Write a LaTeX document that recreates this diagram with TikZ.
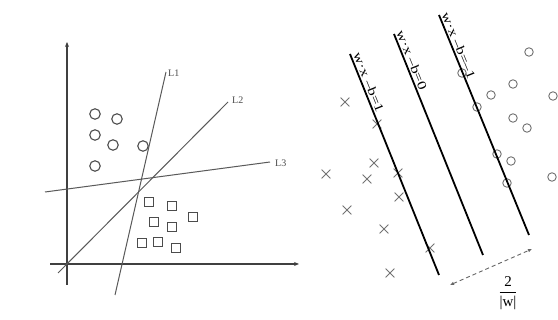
\documentclass[tikz,border=0pt]{standalone}
\usepackage{fontspec}
\setmainfont{Liberation Serif}
\usepackage{graphicx}
\usetikzlibrary{arrows.meta,shapes.misc}
\begin{document}
\begin{tikzpicture}[x=1pt,y=-1pt,
  axis/.style={draw=black!75, line width=1.3pt},
  sepline/.style={draw=black!65, line width=1pt},
  lblL/.style={font=\fontsize{10}{12}\selectfont, text=black!70, inner sep=1pt, anchor=west},
  lcirc/.style={circle, draw=black!70, line width=1.1pt, minimum size=10.5pt, inner sep=0pt},
  lsq/.style={rectangle, draw=black!70, line width=1.1pt, minimum size=9.5pt, inner sep=0pt},
  rcirc/.style={circle, draw=black!55, line width=0.9pt, minimum size=8.5pt, inner sep=0pt},
  rcross/.style={cross out, draw=black!55, line width=0.8pt, minimum size=8pt, inner sep=0pt},
  margin/.style={draw=black, line width=1.8pt},
  mlabel/.style={sloped, above, font=\fontsize{12.5}{14}\selectfont, inner sep=1.5pt},
]
\useasboundingbox (0,0) rectangle (558,320);
\fill[white] (0,0) rectangle (558,320);

% ---------- left panel ----------
\coordinate (yb) at (67,285);
\coordinate (yt) at (67,42);
\coordinate (xl) at (50,264);
\coordinate (xr) at (299,264);
\draw[axis,-{Stealth[length=5pt,width=4pt]}] (yb) -- (yt);
\draw[axis,-{Stealth[length=5pt,width=4pt]}] (xl) -- (xr);

\coordinate (l1a) at (115,295);
\coordinate (l1b) at (166,72);
\coordinate (l2a) at (58,273);
\coordinate (l2b) at (228,102);
\coordinate (l3a) at (45,192);
\coordinate (l3b) at (270,162);
\draw[sepline] (l1a) -- (l1b);
\draw[sepline] (l2a) -- (l2b);
\draw[sepline] (l3a) -- (l3b);
\node[lblL] (L1) at (167,73) {L1};
\node[lblL] (L2) at (231,100) {L2};
\node[lblL] (L3) at (274,163) {L3};

\node[lcirc] (c1) at (95,114) {};
\node[lcirc] (c2) at (117,119) {};
\node[lcirc] (c3) at (95,135) {};
\node[lcirc] (c4) at (113,145) {};
\node[lcirc] (c5) at (143,146) {};
\node[lcirc] (c6) at (95,166) {};

\node[lsq] (s1) at (149,202) {};
\node[lsq] (s2) at (172,206) {};
\node[lsq] (s3) at (193,217) {};
\node[lsq] (s4) at (154,222) {};
\node[lsq] (s5) at (172,227) {};
\node[lsq] (s6) at (142,243) {};
\node[lsq] (s7) at (158,242) {};
\node[lsq] (s8) at (176,248) {};

% ---------- right panel ----------
\node[rcross] (x1) at (345,102) {};
\node[rcross] (x2) at (377,124) {};
\node[rcross] (x3) at (326,174) {};
\node[rcross] (x4) at (374,163) {};
\node[rcross] (x5) at (367,179) {};
\node[rcross] (x6) at (398,173) {};
\node[rcross] (x7) at (399,197) {};
\node[rcross] (x8) at (347,210) {};
\node[rcross] (x9) at (384,229) {};
\node[rcross] (x10) at (430,248) {};
\node[rcross] (x11) at (390,273) {};

\node[rcirc] (o1) at (529,52) {};
\node[rcirc] (o2) at (462,73) {};
\node[rcirc] (o3) at (513,84) {};
\node[rcirc] (o4) at (491,95) {};
\node[rcirc] (o5) at (553,96) {};
\node[rcirc] (o6) at (477,107) {};
\node[rcirc] (o7) at (513,118) {};
\node[rcirc] (o8) at (527,128) {};
\node[rcirc] (o9) at (497,154) {};
\node[rcirc] (o10) at (511,161) {};
\node[rcirc] (o11) at (507,183) {};
\node[rcirc] (o12) at (552,177) {};

\coordinate (m1t) at (350,54);
\coordinate (m1b) at (439,275);
\coordinate (m2t) at (394,34);
\coordinate (m2b) at (483,255);
\coordinate (m3t) at (439,15);
\coordinate (m3b) at (529,235);
\draw[margin] (m1t) -- node[mlabel, pos=0.14] (t1) {\scalebox{1.3}[1]{w·x –b=1}} (m1b);
\draw[margin] (m2t) -- node[mlabel, pos=0.13] (t2) {\scalebox{1.3}[1]{w·x –b=0}} (m2b);
\draw[margin] (m3t) -- node[mlabel, pos=0.15] (t3) {\scalebox{1.3}[1]{w·x –b=–1}} (m3b);

\coordinate (d1) at (450,285);
\coordinate (d2) at (532,249);
\draw[draw=black!60, line width=0.9pt, dash pattern=on 4pt off 3pt,
  {Latex[length=4pt,width=3.5pt]}-{Latex[length=4pt,width=3.5pt]}] (d1) -- (d2);
\node[font=\fontsize{15}{17}\selectfont, inner sep=0pt] (frac) at (508,293)
  {$\displaystyle\frac{\mbox{2}}{\mbox{|w|}}$};
\end{tikzpicture}
\end{document}
